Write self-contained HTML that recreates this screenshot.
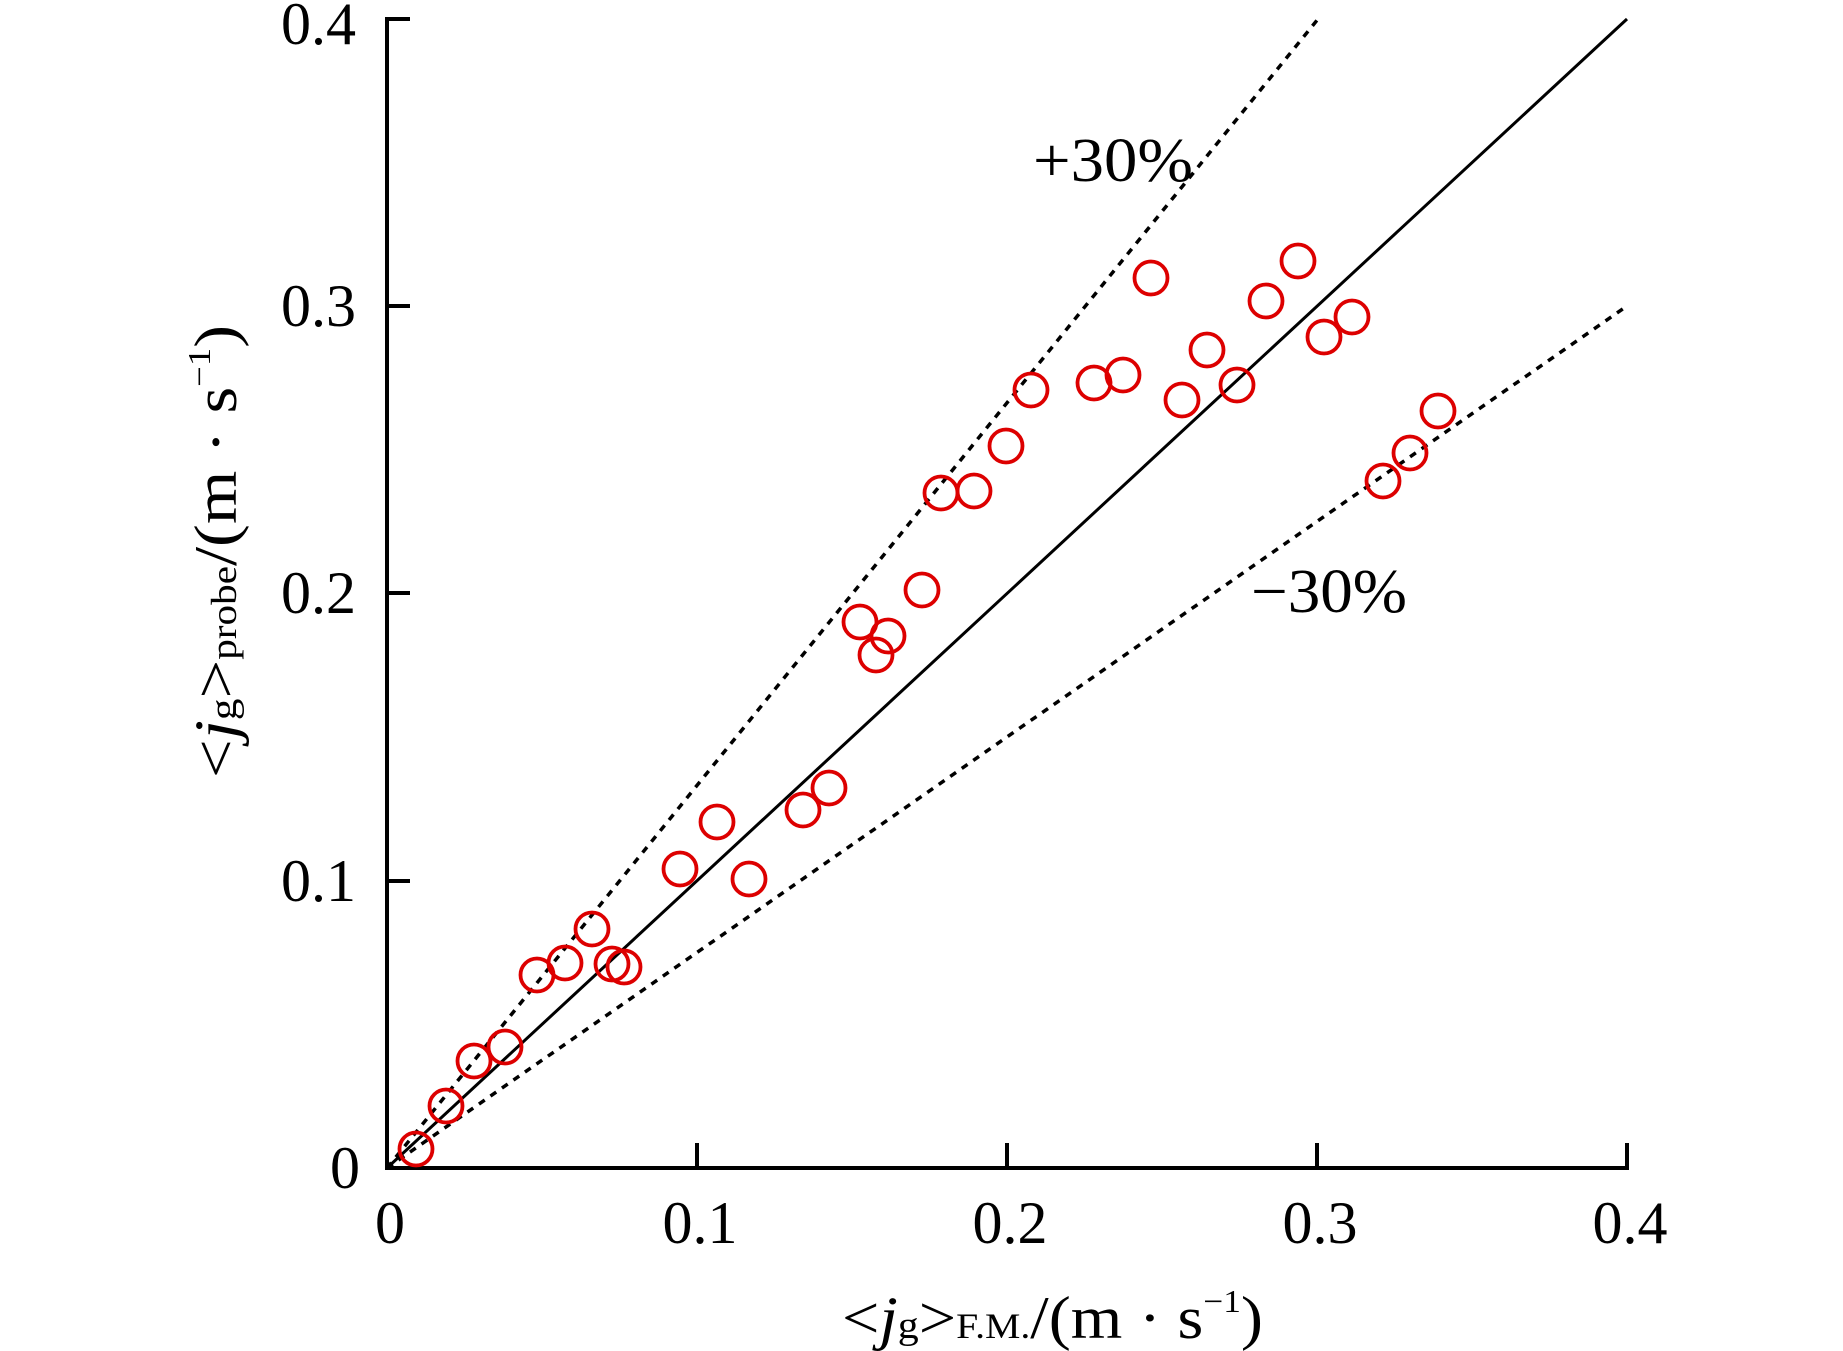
<!DOCTYPE html>
<html><head><meta charset="utf-8"><style>html,body{margin:0;padding:0;background:#fff}svg{display:block}</style></head>
<body>
<svg width="1843" height="1351" viewBox="0 0 1843 1351" xmlns="http://www.w3.org/2000/svg" font-family="'Liberation Serif', serif">
<rect width="1843" height="1351" fill="#fff"/>
<line x1="387" y1="1168" x2="1627" y2="19" stroke="#000" stroke-width="3"/>
<line x1="387" y1="1168" x2="1318" y2="19" stroke="#000" stroke-width="3.5" stroke-dasharray="7,7"/>
<line x1="387" y1="1168" x2="1627" y2="306" stroke="#000" stroke-width="3.5" stroke-dasharray="7,7"/>
<path d="M410 19 H387 V1168 H1627 V1143" fill="none" stroke="#000" stroke-width="4"/>
<g stroke="#000" stroke-width="4">
<line x1="697" y1="1168" x2="697" y2="1143"/>
<line x1="1007" y1="1168" x2="1007" y2="1143"/>
<line x1="1317" y1="1168" x2="1317" y2="1143"/>
<line x1="387" y1="881" x2="410" y2="881"/>
<line x1="387" y1="593" x2="410" y2="593"/>
<line x1="387" y1="306" x2="410" y2="306"/>
</g>
<g font-size="60" fill="#000">
<g text-anchor="middle">
<text x="390" y="1243">0</text>
<text x="700" y="1243">0.1</text>
<text x="1010" y="1243">0.2</text>
<text x="1320" y="1243">0.3</text>
<text x="1630" y="1243">0.4</text>
</g>
<g text-anchor="end">
<text x="360" y="1188">0</text>
<text x="356" y="901">0.1</text>
<text x="356" y="613">0.2</text>
<text x="356" y="326">0.3</text>
<text x="356" y="44">0.4</text>
</g>
<text x="1033" y="181" font-size="62" textLength="160" lengthAdjust="spacingAndGlyphs">+30%</text>
<text x="1251" y="612" font-size="62" textLength="156" lengthAdjust="spacingAndGlyphs">−30%</text>
</g>
<text x="842" y="1338" font-size="60" textLength="421" lengthAdjust="spacingAndGlyphs">&lt;<tspan font-style="italic">j</tspan><tspan font-size="38">g</tspan>&gt;<tspan font-size="36">F.M.</tspan>/(m · s<tspan font-size="32" dy="-26">−1</tspan><tspan dy="26">)</tspan></text>
<text transform="translate(236,778) rotate(-90)" font-size="60" textLength="453" lengthAdjust="spacingAndGlyphs">&lt;<tspan font-style="italic">j</tspan><tspan font-size="38">g</tspan>&gt;<tspan font-size="36">probe</tspan>/(m · s<tspan font-size="32" dy="-26">−1</tspan><tspan dy="26">)</tspan></text>
<g fill="none" stroke="#dd0000" stroke-width="3.8">
<circle cx="416" cy="1149" r="16.5"/>
<circle cx="446" cy="1106" r="16.5"/>
<circle cx="474" cy="1061" r="16.5"/>
<circle cx="505" cy="1047" r="16.5"/>
<circle cx="537" cy="975" r="16.5"/>
<circle cx="565" cy="963" r="16.5"/>
<circle cx="592" cy="929" r="16.5"/>
<circle cx="612" cy="964" r="16.5"/>
<circle cx="624" cy="967" r="16.5"/>
<circle cx="680" cy="869" r="16.5"/>
<circle cx="717" cy="822" r="16.5"/>
<circle cx="749" cy="879" r="16.5"/>
<circle cx="803" cy="810" r="16.5"/>
<circle cx="829" cy="788" r="16.5"/>
<circle cx="860" cy="622" r="16.5"/>
<circle cx="876" cy="655" r="16.5"/>
<circle cx="888" cy="636" r="16.5"/>
<circle cx="922" cy="590" r="16.5"/>
<circle cx="941" cy="493" r="16.5"/>
<circle cx="974" cy="491" r="16.5"/>
<circle cx="1006" cy="446" r="16.5"/>
<circle cx="1031" cy="390" r="16.5"/>
<circle cx="1094" cy="383" r="16.5"/>
<circle cx="1123" cy="375" r="16.5"/>
<circle cx="1151" cy="278" r="16.5"/>
<circle cx="1182" cy="400" r="16.5"/>
<circle cx="1207" cy="350" r="16.5"/>
<circle cx="1237" cy="385" r="16.5"/>
<circle cx="1266" cy="301" r="16.5"/>
<circle cx="1298" cy="261" r="16.5"/>
<circle cx="1324" cy="337" r="16.5"/>
<circle cx="1352" cy="317" r="16.5"/>
<circle cx="1383" cy="481" r="16.5"/>
<circle cx="1410" cy="453" r="16.5"/>
<circle cx="1438" cy="411" r="16.5"/>
</g>
</svg>
</body></html>
